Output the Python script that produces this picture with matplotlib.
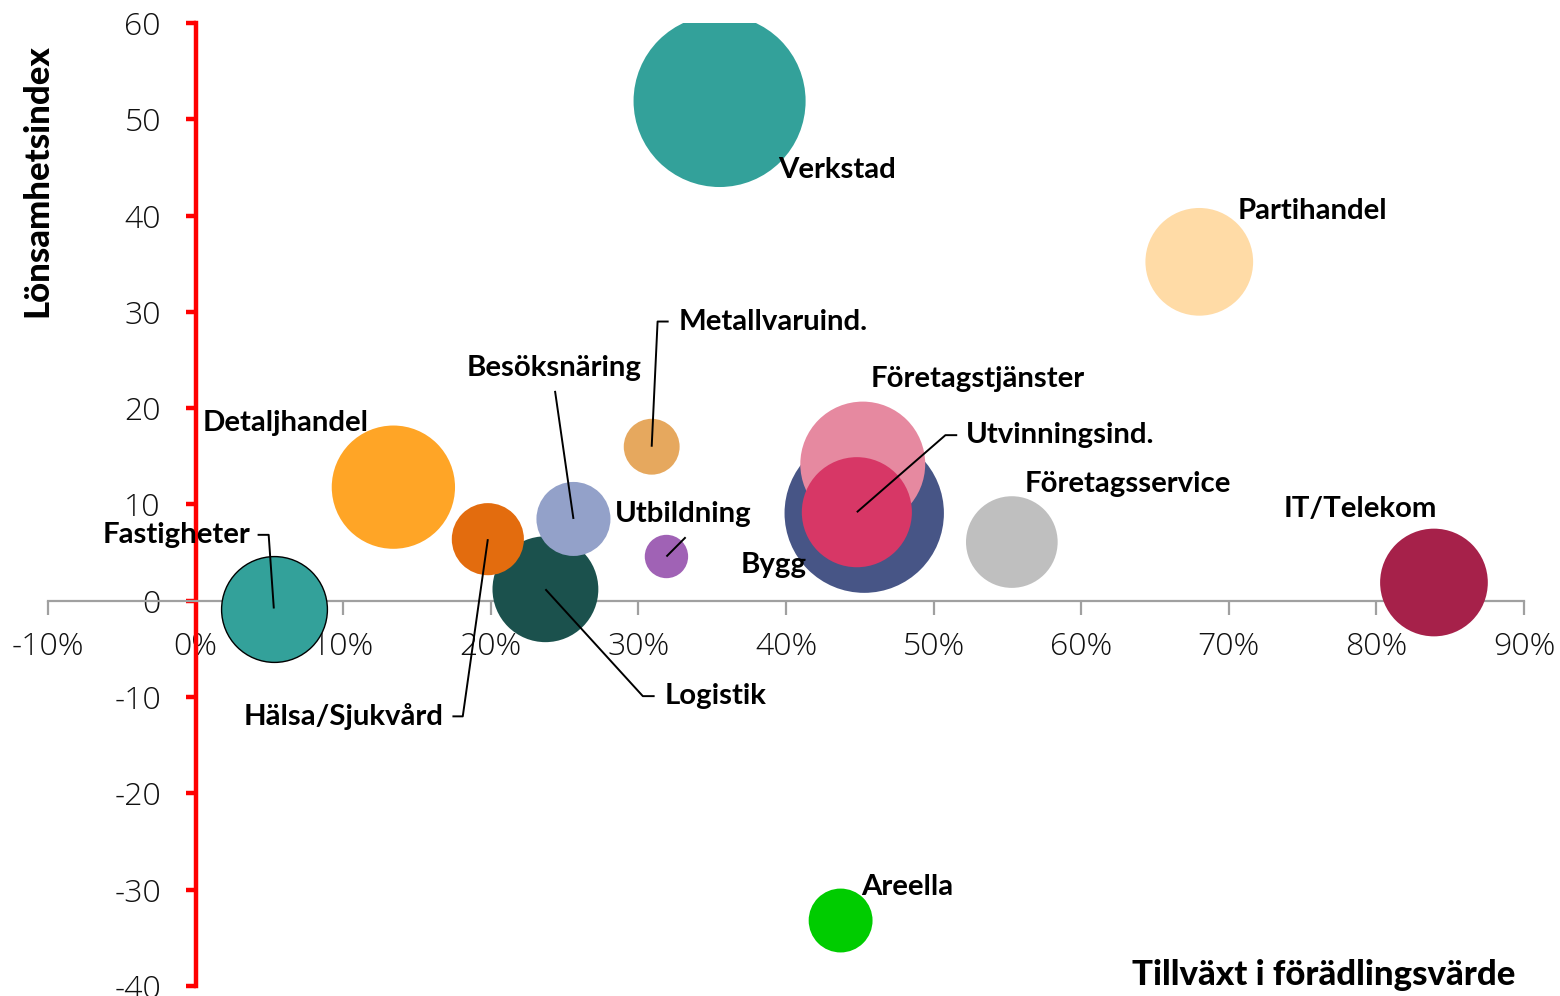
import matplotlib
matplotlib.use("Agg")
import matplotlib.pyplot as plt
from matplotlib.ticker import FuncFormatter

# ---------------- data ----------------
branscher = ["Verkstad", "Partihandel", "Detaljhandel", "Fastigheter", "Logistik",
             "Hälsa/Sjukvård", "Besöksnäring", "Metallvaruind.", "Utbildning",
             "Bygg", "Företagstjänster", "Utvinningsind.", "Företagsservice",
             "IT/Telekom", "Areella"]
tillvaxt = [35.5, 68.0, 13.4, 5.3, 23.7, 19.8, 25.6, 30.9, 31.9,
            45.3, 45.2, 44.8, 55.3, 83.9, 43.7]          # % growth in value added
lonsamhet = [51.9, 35.2, 11.8, -0.8, 1.2, 6.4, 8.5, 16.0, 4.6,
             9.1, 14.2, 9.2, 6.1, 1.9, -33.2]            # profitability index
storlek = [74.0, 29.0, 38.0, 28.0, 28.0, 13.0, 13.7, 7.8, 4.7,
           63.5, 39.0, 30.3, 21.0, 29.0, 10.2]           # bubble size (relative area)
farger = ["#33A19A", "#FFDBA6", "#FFA526", "#33A19A", "#1B514D",
          "#E36C0E", "#93A1C9", "#E6A85E", "#A062B5",
          "#475586", "#E689A0", "#D73766", "#BFBFBF",
          "#A6214A", "#00CC00"]

x_ticks = [-10, 0, 10, 20, 30, 40, 50, 60, 70, 80, 90]
y_ticks = [-40, -30, -20, -10, 0, 10, 20, 30, 40, 50, 60]

# label layout: (x, y, ha, leader points)
label_layout = {
    "Verkstad":        (39.5, 44.7, "left", None),
    "Partihandel":     (70.6, 40.5, "left", None),
    "Detaljhandel":    (0.45, 18.5, "left", None),
    "Fastigheter":     (3.7, 6.85, "right", [(4.2, 6.85), (4.95, 6.85)]),
    "Hälsa/Sjukvård":  (16.8, -12.0, "right", [(17.4, -12.0), (18.1, -12.0)]),
    "Logistik":        (31.75, -9.9, "left", [(31.1, -9.9), (30.3, -9.9)]),
    "Besöksnäring":    (24.3, 24.2, "center", [(24.35, 21.8)]),
    "Metallvaruind.":  (32.7, 29.0, "left", [(32.05, 29.0), (31.3, 29.0)]),
    "Företagstjänster": (45.75, 23.05, "left", None),
    "Utvinningsind.":  (52.2, 17.2, "left", [(51.6, 17.2), (50.8, 17.2)]),
    "Företagsservice": (56.2, 12.15, "left", None),
    "Utbildning":      (28.4, 9.0, "left", [(33.2, 6.6)]),
    "Bygg":            (36.9, 3.7, "left", None),
    "IT/Telekom":      (73.7, 9.55, "left", None),
    "Areella":         (45.1, -29.7, "left", None),
}

# ---------------- figure ----------------
W, H, DPI = 1560, 996, 100
fig = plt.figure(figsize=(W / DPI, H / DPI), dpi=DPI)
ax = fig.add_axes([48 / W, 1 - 986 / H, (1524 - 48) / W, (986 - 23) / H])
ax.set_xlim(-10, 90)
ax.set_ylim(-40, 60)

# bubble radius (px) ~ 10*sqrt(storlek); marker diameter in points
for i, (x, y, s, c) in enumerate(zip(tillvaxt, lonsamhet, storlek, farger)):
    diam_pt = 2 * 10 * (s ** 0.5) * 72 / DPI
    ax.scatter([x], [y], s=diam_pt ** 2, color=c,
               edgecolors="black" if branscher[i] == "Fastigheter" else "none",
               linewidths=1.0, zorder=3 + i * 0.01, clip_on=True)

lab_font = dict(family=["Lato", "DejaVu Sans"], fontsize=21.2, fontweight="bold", color="black")
for name, x, y in zip(branscher, tillvaxt, lonsamhet):
    lx, ly, ha, leader = label_layout[name]
    ax.text(lx, ly, name, ha=ha, va="center", zorder=6, **lab_font)
    if leader:
        pts = leader + [(x, y)]
        ax.plot([p[0] for p in pts], [p[1] for p in pts], color="black",
                lw=1.4, zorder=5, solid_capstyle="butt")

# spines
for s in ["top", "right"]:
    ax.spines[s].set_visible(False)
ax.spines["left"].set_position(("data", 0))
ax.spines["left"].set_color("#FF0000")
ax.spines["left"].set_linewidth(3.2)
ax.spines["bottom"].set_position(("data", 0))
ax.spines["bottom"].set_color("#A0A0A0")
ax.spines["bottom"].set_linewidth(1.6)
ax.spines["left"].set_zorder(2)
ax.spines["bottom"].set_zorder(2)

ax.xaxis.set_major_locator(plt.FixedLocator(x_ticks))
ax.yaxis.set_major_locator(plt.FixedLocator(y_ticks))
ax.xaxis.set_major_formatter(FuncFormatter(lambda v, p: f"{int(v)}%"))
ax.yaxis.set_major_formatter(FuncFormatter(lambda v, p: f"{int(v)}"))

tick_font = ["Open Sans", "DejaVu Sans"]
ax.tick_params(axis="x", direction="out", length=10, width=1.6, color="#A0A0A0",
               labelsize=23, pad=12)
ax.tick_params(axis="y", direction="out", length=7, width=3.2, color="#FF0000",
               labelsize=23, pad=18)
for lbl in ax.get_xticklabels() + ax.get_yticklabels():
    lbl.set_fontfamily(tick_font)
    lbl.set_fontweight("light")
    lbl.set_color("#111111")

# axis titles
fig.text(37 / W, 1 - 181 / H, "Lönsamhetsindex", rotation=90, ha="center", va="center",
         family=["Lato", "DejaVu Sans"], fontweight="black", fontsize=25)
fig.text(1515 / W, 1 - 975 / H, "Tillväxt i förädlingsvärde", ha="right", va="center",
         family=["Lato", "DejaVu Sans"], fontweight="black", fontsize=25)

fig.savefig("out.png", dpi=DPI, facecolor="white")
